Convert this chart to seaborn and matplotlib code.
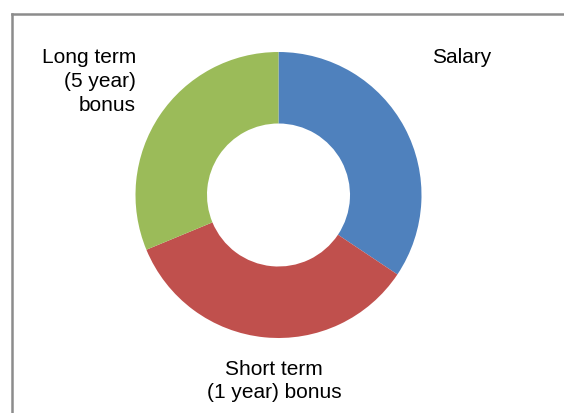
import matplotlib
matplotlib.use("Agg")
import matplotlib.pyplot as plt
from matplotlib.lines import Line2D
import seaborn as sns

categories = ["Salary", "Short term\n(1 year) bonus", "Long term\n(5 year)\nbonus"]
values = [1.1, 1.1, 1.0]
colors = ["#4F81BD", "#C0504D", "#9BBB59"]

sns.set_theme(style="white")
plt.rcParams['font.family'] = ['Liberation Sans', 'DejaVu Sans']

W, H = 564, 414
fig = plt.figure(figsize=(W / 100, H / 100), dpi=100)
fig.patch.set_facecolor("white")

cx, cy, r = 278.5, 196, 143
ax = fig.add_axes([(cx - r) / W, (H - cy - r) / H, 2 * r / W, 2 * r / H])
ax.pie(values, colors=colors, startangle=90, counterclock=False, radius=1,
       wedgeprops=dict(width=0.5, edgecolor="none", linewidth=0))
ax.set_xlim(-1, 1)
ax.set_ylim(-1, 1)
ax.set_aspect("equal")
ax.axis("off")

fs = 15
ls = 1.32
def px(x, y):
    return ((x - cx) / r, (cy - y) / r)

x, y = px(462, 57)
ax.text(x, y, categories[0], ha="center", va="center", fontsize=fs, color="black", clip_on=False)
x, y = px(274, 381)
ax.text(x, y, categories[1], ha="center", va="center", fontsize=fs, color="black",
        multialignment="center", linespacing=ls, clip_on=False)
x, y = px(136, 81.5)
ax.text(x, y, categories[2], ha="right", va="center", fontsize=fs, color="black",
        multialignment="right", linespacing=ls, clip_on=False)

# chart border (left and top visible)
bc = "#8c8c8c"
fig.add_artist(Line2D([11.5 / W, 11.5 / W], [0, (H - 15) / H], transform=fig.transFigure,
                      color=bc, linewidth=1.8, solid_capstyle="projecting"))
fig.add_artist(Line2D([11.5 / W, 1], [(H - 15) / H, (H - 15) / H], transform=fig.transFigure,
                      color=bc, linewidth=1.8, solid_capstyle="projecting"))

fig.savefig("out.png", dpi=100, facecolor="white")
